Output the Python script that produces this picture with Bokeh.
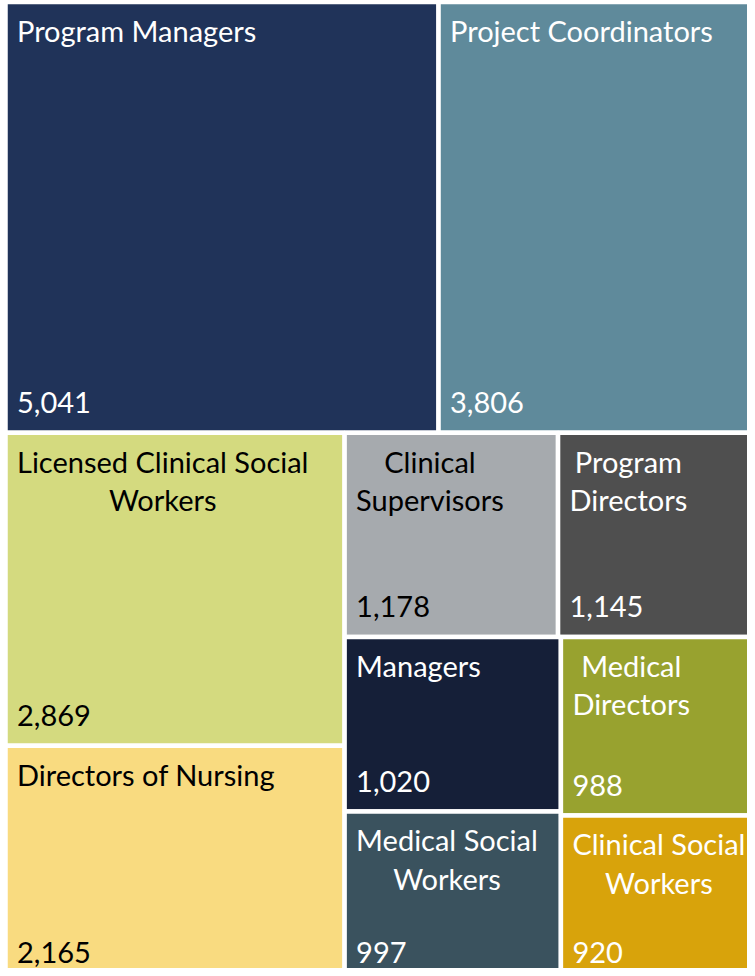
from bokeh.plotting import figure
from bokeh.models import ColumnDataSource, Range1d
from bokeh.core.properties import value
from bokeh.embed import file_html
from bokeh.resources import INLINE

# ---- data -------------------------------------------------------------
categories = ["Program Managers", "Project Coordinators",
              "Licensed Clinical Social\nWorkers", "Directors of Nursing",
              "Clinical\nSupervisors", "Program\nDirectors", "Managers",
              "Medical Social\nWorkers", "Medical\nDirectors",
              "Clinical Social\nWorkers"]
counts = [5041, 3806, 2869, 2165, 1178, 1145, 1020, 997, 988, 920]
colors = ["#203359", "#5F8A9B", "#D4DA7F", "#F9DB80", "#A6AAAE",
          "#4F4F4F", "#151F38", "#3A525E", "#98A22F", "#D8A30B"]
text_colors = ["white", "white", "black", "black", "black",
               "white", "white", "white", "white", "white"]

# ---- layout (squarified treemap) ---------------------------------------
TOTAL_W, TOTAL_H = 760.0, 980.0


def worst(row, side):
    s = sum(row)
    return max(max(s * s / (side * side * r), side * side * r / (s * s)) for r in row)


def squarify(vals, x, y, w, h):
    tot = sum(vals)
    areas = [v * w * h / tot for v in vals]
    rects = []
    while areas:
        side = min(w, h)
        row = [areas[0]]
        i = 1
        while i < len(areas) and worst(row + [areas[i]], side) <= worst(row, side):
            row.append(areas[i])
            i += 1
        areas = areas[i:]
        s = sum(row)
        if w <= h:
            rh = s / w
            cx = x
            for a in row:
                rw = a / rh
                rects.append((cx, y, cx + rw, y + rh))
                cx += rw
            y += rh
            h -= rh
        else:
            cw = s / h
            cy = y
            for a in row:
                ch = a / cw
                rects.append((x, cy, x + cw, cy + ch))
                cy += ch
            x += cw
            w -= cw
    return rects


rects = squarify(counts, 0.0, 0.0, TOTAL_W, TOTAL_H)
left = [r[0] for r in rects]
top = [r[1] for r in rects]
right = [r[2] for r in rects]
bottom = [r[3] for r in rects]

PAD_X = 11.5
LABEL_DY = 10.8
VALUE_DY = 30

src = ColumnDataSource(dict(
    left=left, right=right, top=top, bottom=bottom, color=colors,
    tcolor=text_colors, label=categories,
    value=[f"{c:,}" for c in counts],
    lx=[l + PAD_X for l in left],
    ly=[t + LABEL_DY for t in top],
    vy=[b - VALUE_DY for b in bottom],
))

p = figure(width=747, height=968, output_backend="svg", toolbar_location=None,
           x_range=Range1d(-5, 742), y_range=Range1d(966.5, -1.5),
           min_border=0, outline_line_color=None,
           background_fill_color="white", border_fill_color="white")
p.xaxis.visible = False
p.yaxis.visible = False
p.grid.visible = False

p.quad(left="left", right="right", top="top", bottom="bottom", source=src,
       fill_color="color", line_color="white", line_width=4.5)

FONT = value("Lato")
p.text(x="lx", y="ly", text="label", source=src, text_color="tcolor",
       text_font=FONT, text_font_size="29px", text_align="center",
       anchor="top_left", text_line_height=1.107)
p.text(x="lx", y="vy", text="value", source=src, text_color="tcolor",
       text_font=FONT, text_font_size="29px", text_align="left",
       text_baseline="alphabetic")

open("out.html", "w").write(file_html(p, INLINE))
